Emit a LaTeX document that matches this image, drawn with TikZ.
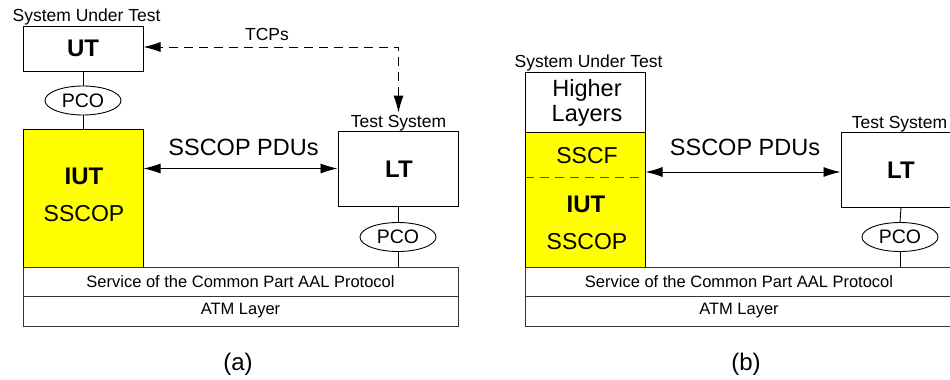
\documentclass[tikz,border=0pt]{standalone}
\usepackage{fontspec}
\setmainfont{Liberation Sans}
\usetikzlibrary{shapes.geometric,arrows.meta}
\definecolor{iutyellow}{HTML}{FFFF00}
\tikzset{
  fs/.style={font=\fontsize{#1}{#1}\selectfont},
  box/.style={draw=black, line width=1pt, inner sep=0pt, minimum width=120pt},
  yel/.style={box, fill=iutyellow},
  layer/.style={draw=black!80, line width=1pt, inner sep=0pt, minimum width=435pt, fs=16.5},
  pco/.style={ellipse, draw=black, line width=0.9pt, inner sep=0pt, minimum width=76pt, minimum height=29pt, fs=19.5},
  lbl/.style={inner sep=2pt, fs=17.5},
  boxb/.style={inner sep=0pt, font=\fontsize{24}{24}\selectfont\bfseries},
  boxr/.style={inner sep=0pt, fs=23},
  pdu/.style={inner sep=0pt, fs=23.5},
  conn/.style={line width=0.9pt, black},
  tip/.style={},
  biarrow/.style={line width=0.9pt, {Latex[length=17pt,width=10pt]}-{Latex[length=17pt,width=10pt]}},
  dasharrow/.style={line width=0.9pt, dash pattern=on 9pt off 6pt, {Latex[length=17pt,width=10pt]}-{Latex[length=17pt,width=10pt]}},
}
\begin{document}
\begin{tikzpicture}[x=1pt,y=-1pt]
\clip (0,0) rectangle (950,380);
% ---------------- (a) ----------------
\node[lbl, anchor=base] (sut1) at (86.5,21.5) {System Under Test};
\node[box, minimum height=45pt] (ut) at (83,48.5) {};
\node[boxb] (uttext) at (83,48.5) {UT};
\node[pco] (pco1) at (83,100.5) {PCO};
\node[yel, minimum height=138pt] (iut1) at (83,198) {};
\node[boxb] (iut1a) at (84,176.5) {IUT};
\node[boxr] (iut1b) at (84,214) {SSCOP};
\draw[conn] (ut.south) -- (pco1.north);
\draw[conn] (pco1.south) -- (iut1.north);

\node[lbl, anchor=base] (ts1) at (398.5,127) {Test System};
\node[box, minimum height=75pt] (lt1) at (398,168.5) {};
\node[boxb] (lt1t) at (399,169) {LT};
\node[pco] (pco2) at (398,237) {PCO};
\node[layer, minimum height=29pt] (svc1) at (240.5,281.5) {Service of the Common Part AAL Protocol};
\node[layer, minimum height=30pt] (atm1) at (240.5,311) {ATM Layer};
\draw[conn] (lt1.south) -- (pco2.north);
\draw[conn] (pco2.south) -- (pco2.south |- svc1.north);

\node[pdu, anchor=base] (pdu1) at (243.5,155) {SSCOP PDUs};
\draw[biarrow] (iut1.east |- lt1.west) -- (lt1.west);

\node[lbl, anchor=base] (tcp) at (267,40.5) {TCPs};
\draw[dasharrow] (ts1.north) |- ([yshift=1.5pt]ut.east);

\node[fs=24] (cap1) at (238,364) {(a)};

% ---------------- (b) ----------------
\node[lbl, anchor=base] (sut2) at (588.5,67.5) {System Under Test};
\node[box, minimum height=60pt] (hl) at (585,102) {};
\node[inner sep=0pt, align=center, font=\fontsize{23.5}{25}\selectfont] (hlt) at (587,103) {Higher\\Layers};
\node[yel, minimum height=135pt] (iut2) at (585,199.5) {};
\coordinate (d1) at (525,177);
\coordinate (d2) at (645,177);
\draw[line width=0.8pt, black!70, dash pattern=on 9pt off 6pt] (d1) -- (d2);
\node[inner sep=0pt, fs=23] (sscf) at (587,155.5) {SSCF};
\node[boxb] (iut2a) at (586,204) {IUT};
\node[boxr] (iut2b) at (587,241.5) {SSCOP};

\node[lbl, anchor=base] (ts2) at (899.5,128) {Test System};
\node[box, minimum height=75pt] (lt2) at (901,169.5) {};
\node[boxb] (lt2t) at (901,170) {LT};
\node[pco] (pco3) at (900,237) {PCO};
\node[layer, minimum width=436pt, minimum height=29pt] (svc2) at (743,281.5) {};
\node[inner sep=0pt, fs=16.5] (svc2t) at (739,281.5) {Service of the Common Part AAL Protocol};
\node[layer, minimum width=436pt, minimum height=30pt] (atm2) at (743,311) {};
\node[inner sep=0pt, fs=16.5] (atm2t) at (739,311) {ATM Layer};
\draw[conn] (lt2.south) -- (pco3.north);
\draw[conn] (pco3.south) -- (pco3.south |- svc2.north);

\node[pdu, anchor=base] (pdu2) at (745,155) {SSCOP PDUs};
\draw[biarrow] ([yshift=-2.5pt]lt2.west -| iut2.east) -- ([yshift=-2.5pt]lt2.west);

\node[fs=24] (cap2) at (746,364) {(b)};
\end{tikzpicture}
\end{document}
